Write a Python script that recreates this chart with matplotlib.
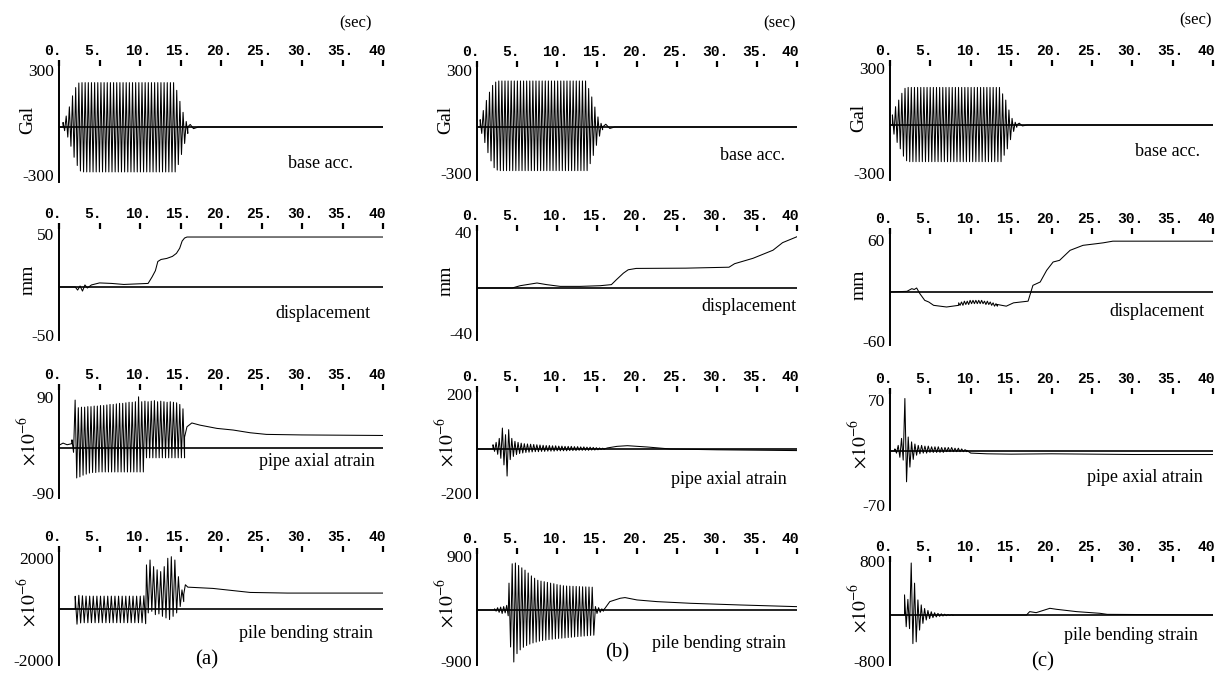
import numpy as np
import matplotlib
matplotlib.use("Agg")
import matplotlib.pyplot as plt
from matplotlib.transforms import ScaledTranslation

plt.rcParams['mathtext.fontset'] = 'stix'

# figure size in pixels
W, H = 1228, 673

# ---- axis text ----
tick_values = [0, 5, 10, 15, 20, 25, 30, 35, 40]
tick_labels = ['0.', '5.', '10.', '15.', '20.', '25.', '30.', '35.', '40']
panel_names = ['base acc.', 'displacement', 'pipe axial atrain', 'pile bending strain']
y_units = ['Gal', 'mm', r'$\times10^{-6}$', r'$\times10^{-6}$']
case_labels = ['(a)', '(b)', '(c)']
y_limits_a = [300, 50, 90, 2000]
y_limits_b = [300, 40, 200, 900]
y_limits_c = [300, 60, 70, 800]

# ---- case (a) ----
a1_pre_t = [0, 0.5]
a1_pre_y = [0, 0]
a1_burst = (0.5, 15.9)
a1_up = [25, 60, 110, 170, 215, 240] + [242] * 30 + [200, 140, 80, 30]
a1_lo = [-20, -55, -105, -165, -210, -240] + [-245] * 30 + [-205, -150, -90, -35]
a1_post_t = [15.9, 16.2, 16.6, 17.2, 40]
a1_post_y = [0, 14, -9, 0, 0]

a2_t = [0, 2.0, 2.3, 2.6, 2.9, 3.2, 3.5, 4.0, 5.0, 6.5, 8.0, 9.5, 11.0, 11.5, 11.9,
        12.2, 12.6, 13.3, 14.0, 14.5, 14.9, 15.2, 15.5, 15.8, 40]
a2_y = [0, 0, -3, 1, -4, 2, -1, 2, 4, 3.5, 2.5, 3, 3.5, 10, 16,
        25, 27, 28, 30, 33, 38, 45, 48, 49, 49]

a3_pre_t = [0, 0.5, 1.0, 1.6]
a3_pre_y = [5, 9, 6, 8]
a3_burst = (1.6, 15.5)
a3_up = [15, 88, 74, 75, 75, 76, 76, 77, 77, 78, 78, 79, 80, 80, 81, 82, 82, 83,
         84, 84, 85, 94, 85, 86, 85, 86, 87, 85, 86, 85, 84, 85, 84, 83, 80, 72]
a3_lo = [-8, -55, -53, -50, -48, -46, -45, -45, -44, -44] + [-44] * 13 + [-18] * 13
a3_post_t = [15.5, 15.8, 16.4, 17.4, 19.5, 21.5, 23.6, 25.6, 30, 40]
a3_post_y = [20, 39, 46, 42, 36, 33, 28, 25, 24, 23]

a4_pre_t = [0, 2.0]
a4_pre_y = [0, 0]
a4_burst1 = (2.0, 10.7)
a4_up1 = [520, 560, 540] + [525] * 16 + [540]
a4_lo1 = [-620, -570] + [-560] * 17 + [-600]
a4_burst2 = (10.8, 15.4)
a4_up2 = [1800, 2000, 1730, 1600, 1527, 1730, 2070, 2135, 2000, 1320, 780]
a4_lo2 = [-160, -95, -230, -200, -300, -365, -430, -300, -160, 100, 300]
a4_post_t = [15.4, 15.6, 15.9, 19, 23.6, 28.2, 40]
a4_post_y = [600, 990, 892, 840, 676, 650, 650]

# ---- case (b) ----
b1_pre_t = [0, 0.4]
b1_pre_y = [0, 0]
b1_burst = (0.4, 15.7)
b1_up = [40, 90, 145, 190, 227, 245] + [251] * 29 + [210, 164, 109, 55, 20]
b1_lo = [-35, -85, -140, -185, -222, -235] + [-238] * 29 + [-200, -155, -100, -50, -15]
b1_post_t = [15.7, 16.1, 16.6, 17.2, 40]
b1_post_y = [0, 15, -8, 0, 0]

b2_t = [0, 4.4, 5.4, 7.5, 8.7, 10.4, 12.9, 15.4, 16.8, 17.4, 18.3, 18.9, 19.9,
        26.1, 31.5, 32.2, 34.5, 37.0, 38.2, 39.8, 40]
b2_y = [0, 0, 1.7, 3.7, 2.5, 1.2, 1.2, 1.7, 2.5, 6, 11, 13.5, 14.5,
        14.7, 15.4, 18, 22, 28, 33.6, 37.5, 38]

b3_pre_t = [0, 2.0]
b3_pre_y = [0, 0]
b3_burst = (2.0, 15.9)
b3_up = [16, 25, 40, 79, 54, 73, 40, 29, 25, 22, 20, 19, 18, 17, 16, 15, 14, 13,
         13, 12, 12, 11, 11, 10, 10, 10, 9, 9, 8, 8, 7, 7, 6, 5, 4, 3]
b3_lo = [-9, -20, -35, -60, -102, -40, -28, -21, -17, -15, -13, -12, -11, -10, -10,
         -9, -9, -8, -8, -8, -7, -7, -7, -7, -6, -6, -6, -5, -5, -5, -5, -4, -4, -3, -2, -1]
b3_post_t = [15.9, 16.3, 17.5, 18.8, 21.3, 24.2, 30, 40]
b3_post_y = [0, 4, 10, 12.5, 7.5, 0, -3, -6]

b4_pre_t = [0, 2.2]
b4_pre_y = [0, 0]
b4_burst0 = (2.2, 3.9)
b4_up0 = [20, 40, 50, 60, 80]
b4_lo0 = [-20, -40, -60, -50, -100]
b4_burst1 = (4.0, 14.6)
b4_up1 = [465, 800, 813, 770, 730, 690, 640, 590, 550, 515, 500, 490, 478, 465,
          455, 440, 430, 420, 415, 412, 410, 408, 405, 402, 400, 398, 395]
b4_lo1 = [-640, -900, -755, -690, -645, -615, -590, -570, -555, -540, -528, -520,
          -512, -505, -498, -492, -487, -482, -476, -471, -465, -460, -455, -450,
          -445, -440, -436]
b4_burst2 = (14.8, 15.8)
b4_up2 = [60, 40, 20]
b4_lo2 = [-60, -40, -20]
b4_post_t = [15.8, 16.0, 16.6, 17.9, 18.5, 20, 22.5, 26.7, 32.9, 40]
b4_post_y = [0, 30, 145, 203, 215, 174, 145, 116, 87, 58]

# ---- case (c) ----
c1_pre_t = [0, 0.3]
c1_pre_y = [0, 0]
c1_burst = (0.3, 15.7)
c1_up = [55, 100, 136, 173, 200] + [205] * 30 + [170, 136, 82, 36, 15]
c1_lo = [-50, -95, -130, -170, -195] + [-200] * 30 + [-165, -130, -80, -35, -12]
c1_post_t = [15.7, 16.0, 16.4, 17.0, 40]
c1_post_y = [0, 10, -5, 0, 0]

c2_pre_t = [0, 2.1, 2.7, 3.0, 3.3, 3.7, 4.0, 4.3, 4.8, 5.4, 7.0, 8.5]
c2_pre_y = [0, 0.8, 4, 3, 4.8, -2, -6, -10, -12, -16, -18, -16]
c2_burst = (8.5, 13.3)
c2_up = [-13, -12, -11, -11, -10, -10, -10, -10, -10, -11, -11, -12, -13, -14]
c2_lo = [-16, -16, -15, -15, -14, -14, -14, -14, -14, -15, -15, -16, -17, -17]
c2_post_t = [13.3, 14.4, 15.3, 17.1, 17.7, 18.6, 19.4, 20.2, 21.0, 22.3, 23.9,
             25.6, 26.4, 27.6, 40]
c2_post_y = [-15, -17, -13, -11, 8, 12, 26, 36, 38, 50, 56, 58, 59, 61, 61]

c3_pre_t = [0, 0.6]
c3_pre_y = [0, 0]
c3_burst = (0.6, 9.5)
c3_up = [3, 8, 18, 75, 20, 13, 10, 8, 8, 7, 7, 6, 6, 6, 5, 5, 5, 5, 4, 4, 3, 2]
c3_lo = [-3, -9, -13, -44, -23, -12, -6, -4, -3, -3, -2, -2, -2, -2, -2, -1, -1,
         -1, -1, -1, -1, -1]
c3_post_t = [9.5, 10.0, 12, 15, 20, 25, 30, 35, 40]
c3_post_y = [1, -3, -4, -4.5, -4, -4.5, -5, -5, -5]

c4_pre_t = [0, 1.8]
c4_pre_y = [0, 0]
c4_burst = (1.8, 7.8)
c4_up = [310, 240, 800, 490, 232, 155, 100, 70, 50, 35, 25, 18, 12, 8, 5]
c4_lo = [-180, -210, -440, -413, -232, -129, -77, -55, -40, -30, -20, -15, -10, -6, -4]
c4_post_t = [7.8, 16.9, 17.3, 18.1, 19.8, 20.6, 23.1, 26.0, 26.9, 40]
c4_post_y = [0, 0, 52, 36, 103, 88, 52, 26, 10, 0]


def line(t, y):
    return np.asarray(t, float), np.asarray(y, float)


def burst(span, up, lo):
    # alternate the read peaks and troughs, one pair per cycle
    n = len(up)
    t = np.linspace(span[0], span[1], 2 * n)
    y = np.empty(2 * n)
    y[0::2] = up
    y[1::2] = lo
    return t, y


def join(*pieces):
    return (np.concatenate([p[0] for p in pieces]),
            np.concatenate([p[1] for p in pieces]))


traces = [
    [join(line(a1_pre_t, a1_pre_y), burst(a1_burst, a1_up, a1_lo), line(a1_post_t, a1_post_y)),
     line(a2_t, a2_y),
     join(line(a3_pre_t, a3_pre_y), burst(a3_burst, a3_up, a3_lo), line(a3_post_t, a3_post_y)),
     join(line(a4_pre_t, a4_pre_y), burst(a4_burst1, a4_up1, a4_lo1),
          burst(a4_burst2, a4_up2, a4_lo2), line(a4_post_t, a4_post_y))],
    [join(line(b1_pre_t, b1_pre_y), burst(b1_burst, b1_up, b1_lo), line(b1_post_t, b1_post_y)),
     line(b2_t, b2_y),
     join(line(b3_pre_t, b3_pre_y), burst(b3_burst, b3_up, b3_lo), line(b3_post_t, b3_post_y)),
     join(line(b4_pre_t, b4_pre_y), burst(b4_burst0, b4_up0, b4_lo0),
          burst(b4_burst1, b4_up1, b4_lo1), burst(b4_burst2, b4_up2, b4_lo2),
          line(b4_post_t, b4_post_y))],
    [join(line(c1_pre_t, c1_pre_y), burst(c1_burst, c1_up, c1_lo), line(c1_post_t, c1_post_y)),
     join(line(c2_pre_t, c2_pre_y), burst(c2_burst, c2_up, c2_lo), line(c2_post_t, c2_post_y)),
     join(line(c3_pre_t, c3_pre_y), burst(c3_burst, c3_up, c3_lo), line(c3_post_t, c3_post_y)),
     join(line(c4_pre_t, c4_pre_y), burst(c4_burst, c4_up, c4_lo), line(c4_post_t, c4_post_y))],
]
limits = [y_limits_a, y_limits_b, y_limits_c]

# ---- layout, in pixels of the scanned page ----
col_x = [(59, 383), (477, 797), (890, 1213)]
# tick row, +max value, zero, bottom of axis line, -max label
row_y = [
    [(62, 72, 127, 182, 177), (225, 236, 287, 340, 337), (386, 399, 448, 498, 495), (548, 560, 609, 665, 662)],
    [(63, 72, 127, 180, 175), (227, 234, 288, 340, 335), (388, 396, 449, 498, 495), (550, 558, 610, 665, 663)],
    [(62, 70, 125, 180, 175), (230, 242, 292, 345, 343), (390, 402, 451, 510, 507), (558, 563, 615, 665, 663)],
]
name_dx = [[30, 13, 8, 10], [12, 1, 10, 11], [13, 8, 10, 15]]
name_dy = [[36, 26, 14, 24], [28, 19, 31, 33], [27, 20, 26, 20]]
case_xy = [(207, 660), (617, 653), (1043, 662)]
sec_xy = [(356, 23), (780, 23), (1196, 20)]

serif = 'Liberation Serif'
mono = 'Liberation Mono'

fig = plt.figure(figsize=(W / 100, H / 100), dpi=100)


def ftext(px, py, s, **kw):
    fig.text(px / W, 1 - py / H, s, **kw)


for ci in range(3):
    x0, x40 = col_x[ci]
    for ri in range(4):
        yt, ymax, yz, yb, ymin_lab = row_y[ci][ri]
        top = yt + 4
        ax = fig.add_axes([x0 / W, 1 - yb / H, (x40 - x0) / W, (yb - top) / H])
        V = limits[ci][ri]
        s = V / (yz - ymax)
        ax.set_ylim(-(yb - yz) * s, (yz - top) * s)
        ax.set_xlim(0, 40)

        t, y = traces[ci][ri]
        ax.axhline(0, color='k', lw=1.2)
        ax.plot(t, y, color='k', lw=0.75)

        for side in ['top', 'right', 'bottom']:
            ax.spines[side].set_visible(False)
        ax.spines['left'].set_linewidth(1.4)
        ax.set_yticks([])
        ax.xaxis.tick_top()
        ax.set_xticks(tick_values)
        ax.set_xticklabels(tick_labels, fontfamily=mono, fontsize=10.5,
                           fontweight='bold', ha='left')
        ax.tick_params(axis='x', direction='out', length=4, width=1.6, pad=2)
        for lab in ax.get_xticklabels():
            lab.set_transform(lab.get_transform() +
                              ScaledTranslation(-0.15, 0, fig.dpi_scale_trans))

        ftext(x0 - 5, ymax, str(V), ha='right', va='center', family=serif, fontsize=12.5)
        ftext(x0 - 5, ymin_lab, '-' + str(V), ha='right', va='center', family=serif, fontsize=12.5)
        ftext(x0 - 31, yz - 7, y_units[ri], ha='center', va='center', rotation=90,
              family=serif, fontsize=14)
        ftext(x40 - name_dx[ci][ri], yz + name_dy[ci][ri], panel_names[ri],
              ha='right', va='center', family=serif, fontsize=13)

    ftext(case_xy[ci][0], case_xy[ci][1], case_labels[ci], ha='center', va='center',
          family=serif, fontsize=15)
    ftext(sec_xy[ci][0], sec_xy[ci][1], '(sec)', ha='center', va='center',
          family=serif, fontsize=12)

fig.savefig('out.png', dpi=100)
